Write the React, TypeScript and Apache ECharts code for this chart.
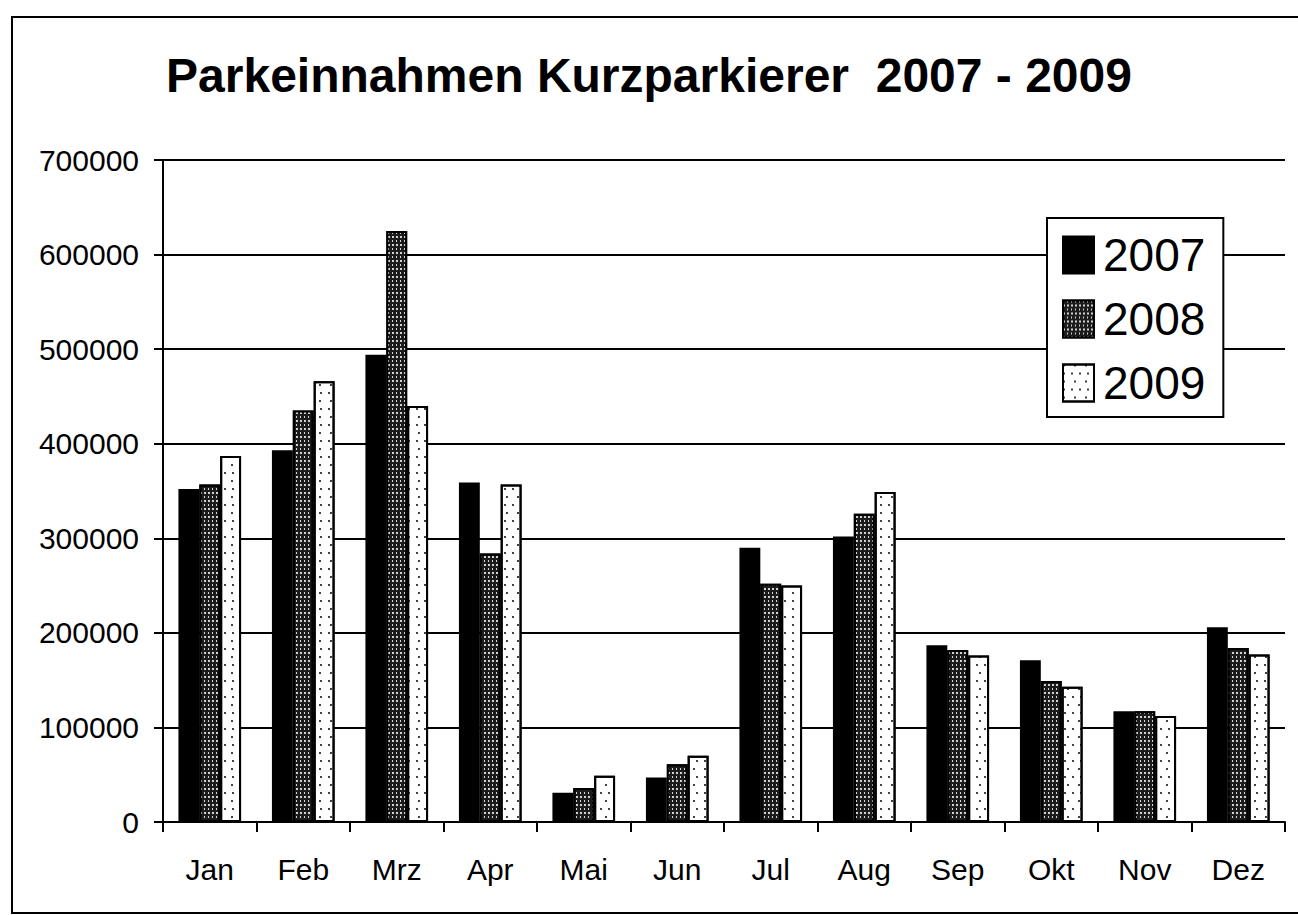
import React, { useEffect, useRef } from "react";
import * as echarts from "echarts";

const months = ["Jan", "Feb", "Mrz", "Apr", "Mai", "Jun", "Jul", "Aug", "Sep", "Okt", "Nov", "Dez"];
const years = ["2007", "2008", "2009"];
const values2007 = [352000, 393000, 494000, 359000, 31000, 47000, 290000, 302000, 187000, 171000, 117000, 206000];
const values2008 = [357000, 435000, 625000, 284000, 36000, 61000, 252000, 326000, 182000, 149000, 117000, 184000];
const values2009 = [387000, 466000, 440000, 357000, 49000, 70000, 250000, 349000, 176000, 143000, 112000, 177000];
const chartTitle = "Parkeinnahmen Kurzparkierer  2007 - 2009";

const FONT = "'Liberation Sans', Arial, sans-serif";

export default function App() {
  const ref = useRef<HTMLDivElement>(null);
  useEffect(() => {
    if (!ref.current) return;
    const chart = echarts.init(ref.current, undefined, { renderer: "svg" });
    const styles = [
      { color: "#000000", borderColor: "#000", borderWidth: 2 },
      {
        color: "#1c1c1c",
        borderColor: "#000",
        borderWidth: 2,
        decal: {
          symbol: "rect",
          symbolSize: 1,
          color: "rgba(255,255,255,0.8)",
          dashArrayX: [[2, 2], [1, 3]],
          dashArrayY: [2, 2],
        },
      },
      {
        color: "#ffffff",
        borderColor: "#000",
        borderWidth: 2,
        decal: {
          symbol: "rect",
          symbolSize: 1,
          color: "rgba(0,0,0,0.75)",
          dashArrayX: [[2, 6], [2, 9]],
          dashArrayY: [2, 6],
        },
      },
    ];
    const data = [values2007, values2008, values2009];
    chart.setOption({
      animation: false,
      backgroundColor: "#ffffff",
      textStyle: { fontFamily: FONT, color: "#000" },
      title: {
        text: chartTitle,
        left: "center",
        top: 46,
        textStyle: { fontFamily: FONT, fontSize: 48, fontWeight: "bold", color: "#000" },
      },
      graphic: [
        {
          type: "rect",
          shape: { x: 12, y: 17, width: 1310, height: 896 },
          style: { fill: "none", stroke: "#000", lineWidth: 2 },
          silent: true,
        },
      ],
      legend: {
        orient: "vertical",
        left: 1047,
        top: 218,
        data: years,
        icon: "rect",
        itemWidth: 31,
        itemHeight: 37,
        itemGap: 16,
        padding: [13, 18, 10, 15],
        backgroundColor: "#fff",
        borderColor: "#000",
        borderWidth: 2,
        borderRadius: 0,
        textStyle: { fontFamily: FONT, fontSize: 46, lineHeight: 48, color: "#000", padding: [0, 0, 0, 4] },
      },
      grid: { left: 163, top: 160, right: 13, bottom: 93, containLabel: false },
      xAxis: {
        type: "category",
        data: months,
        axisLine: { show: true, lineStyle: { color: "#000", width: 2 } },
        axisTick: { show: true, length: 10, lineStyle: { color: "#000", width: 2 } },
        axisLabel: { fontFamily: FONT, fontSize: 30, color: "#000", margin: 32 },
      },
      yAxis: {
        type: "value",
        min: 0,
        max: 700000,
        interval: 100000,
        axisLine: { show: true, lineStyle: { color: "#000", width: 2 } },
        axisTick: { show: true, length: 9, lineStyle: { color: "#000", width: 2 } },
        axisLabel: {
          fontFamily: FONT,
          fontSize: 30,
          color: "#000",
          margin: 24,
          formatter: (v: number) => String(v),
        },
        splitLine: { show: true, lineStyle: { color: "#000", width: 2 } },
      },
      series: years.map((y, i) => ({
        name: y,
        type: "bar",
        data: data[i],
        barGap: "0%",
        barCategoryGap: "33%",
        itemStyle: styles[i],
      })),
    });
    return () => chart.dispose();
  }, []);
  return (
    <div
      ref={ref}
      style={{ position: "absolute", left: 0, top: 0, width: 1298, height: 915, background: "#fff" }}
    />
  );
}
